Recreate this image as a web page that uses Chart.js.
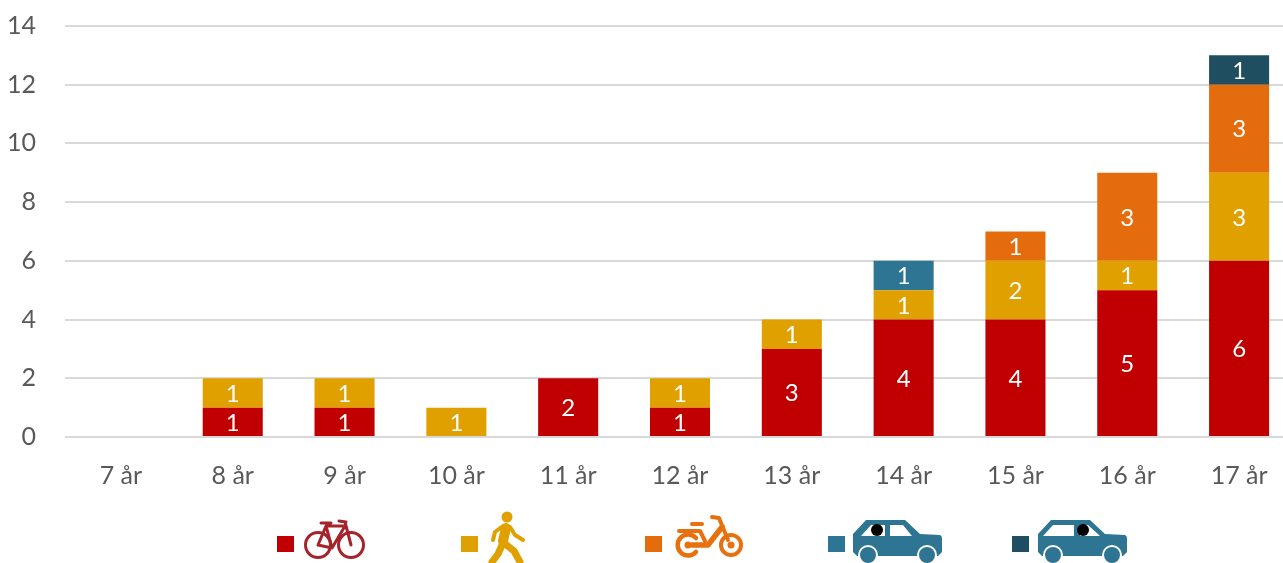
<!DOCTYPE html>
<html>
<head>
<meta charset="utf-8">
<script src="https://cdn.jsdelivr.net/npm/chart.js@4/dist/chart.umd.min.js"></script>
<style>
    html, body { margin: 0; padding: 0; background: #fff; overflow: hidden; }
    #wrap { position: relative; width: 1283px; height: 563px; overflow: hidden; }
    #chart { position: absolute; left: 0; top: 0; }
    #legend { position: absolute; left: 0; top: 0; }
</style>
</head>
<body>
<div id="wrap">
    <canvas id="chart" width="1295" height="563"></canvas>
    <svg id="legend" width="1283" height="563" xmlns="http://www.w3.org/2000/svg"></svg>
</div>
<script>
var categories = ['7 år', '8 år', '9 år', '10 år', '11 år', '12 år', '13 år', '14 år', '15 år', '16 år', '17 år'];
var seriesNames = ['Cykel', 'Gående', 'Moped', 'Bil, förare', 'Bil, passagerare'];
var cykel = [0, 1, 1, 0, 2, 1, 3, 4, 4, 5, 6];
var gaende = [0, 1, 1, 1, 0, 1, 1, 1, 2, 1, 3];
var moped = [0, 0, 0, 0, 0, 0, 0, 0, 1, 3, 3];
var bilForare = [0, 0, 0, 0, 0, 0, 0, 1, 0, 0, 0];
var bilPassagerare = [0, 0, 0, 0, 0, 0, 0, 0, 0, 0, 1];
var colors = ['#c00000', '#e0a100', '#e56c0c', '#2e7593', '#1f4e60'];
var yTicks = [0, 2, 4, 6, 8, 10, 12, 14];

var FONT = 'Lato, "Open Sans", sans-serif';

var barLabels = {
    id: 'barLabels',
    afterDatasetsDraw: function (chart) {
        var ctx = chart.ctx;
        ctx.save();
        ctx.font = '24px ' + FONT;
        ctx.fillStyle = '#ffffff';
        ctx.textAlign = 'center';
        ctx.textBaseline = 'middle';
        chart.data.datasets.forEach(function (ds, i) {
            chart.getDatasetMeta(i).data.forEach(function (bar, j) {
                if (ds.data[j] > 0) {
                    ctx.fillText(ds.data[j], bar.x, (bar.y + bar.base) / 2 + 1);
                }
            });
        });
        ctx.restore();
    }
};

var sets = [cykel, gaende, moped, bilForare, bilPassagerare];

new Chart(document.getElementById('chart'), {
    type: 'bar',
    data: {
        labels: categories,
        datasets: sets.map(function (values, i) {
            return {
                label: seriesNames[i],
                data: values,
                backgroundColor: colors[i],
                borderWidth: 0,
                categoryPercentage: 1,
                barPercentage: 0.537
            };
        })
    },
    options: {
        responsive: false,
        animation: false,
        layout: { padding: { top: 26, left: 0, right: 0, bottom: 0 } },
        plugins: { legend: { display: false }, tooltip: { enabled: false } },
        scales: {
            x: {
                stacked: true,
                grid: { display: false },
                border: { display: false },
                afterFit: function (scale) {
                    scale.height = 126;
                    scale.paddingLeft = 0;
                    scale.paddingRight = 0;
                },
                ticks: {
                    color: '#595959',
                    font: { family: FONT, size: 25 },
                    padding: 16,
                    maxRotation: 0
                }
            },
            y: {
                stacked: true,
                min: 0,
                max: 14,
                afterFit: function (scale) {
                    scale.width = 65;
                    scale.paddingTop = 0;
                    scale.paddingBottom = 0;
                },
                afterBuildTicks: function (scale) {
                    scale.ticks = yTicks.map(function (v) { return { value: v }; });
                },
                grid: { color: '#d9d9d9', lineWidth: 2, drawTicks: false },
                border: { display: false },
                ticks: {
                    color: '#595959',
                    font: { family: FONT, size: 25 },
                    padding: 29
                }
            }
        }
    },
    plugins: [barLabels]
});

// legend pictograms, no text in the original legend
var legendSquares = [277, 461, 645, 828, 1012];
var bike = '<g fill="none" stroke="#a5232a" stroke-width="3" stroke-linejoin="round" stroke-linecap="round">' +
    '<circle cx="318" cy="545" r="12.5"/><circle cx="351" cy="545" r="12.5"/>' +
    '<path d="M318 545 L326 526 L345 526 L332 548 L318 545 M326 526 L332 548 M345 522 L351 545 M321 523 L331 523 M339 521 L346 522"/></g>';
var walker = '<g fill="none" stroke="#e0a100" stroke-linecap="round" stroke-linejoin="round">' +
    '<circle cx="507" cy="517" r="5.5" fill="#e0a100" stroke="none"/>' +
    '<path d="M506 528 L503 541" stroke-width="10"/>' +
    '<path d="M503 526 L495 532 L493 540 M510 527 L515 535 L523 540" stroke-width="4"/>' +
    '<path d="M503 543 L498 554 L492 562 M504 543 L514 551 L520 562" stroke-width="7"/></g>';
var mopedIcon = '<g fill="none" stroke="#e8710f" stroke-linecap="round" stroke-linejoin="round">' +
    '<path d="M696 538 A10.5 10.5 0 1 0 696 552" stroke-width="4.5"/>' +
    '<circle cx="688" cy="545" r="3.5" fill="#e8710f" stroke="none"/>' +
    '<circle cx="731" cy="545" r="10" stroke-width="4"/><circle cx="731" cy="545" r="3.5" fill="#e8710f" stroke="none"/>' +
    '<path d="M692 545 L708 545 L722 527" stroke-width="5.5"/>' +
    '<path d="M712 517 L719 518 L728 540" stroke-width="4"/>' +
    '<path d="M692 524 L702 524 M679 531 L700 531 L705 541" stroke-width="4"/></g>';

function car(dx, headX, mirror) {
    var win = mirror
        ? 'M858 536 L868 525 L889 525 L889 536 Z M895 525 L903 525 L915 536 L895 536 Z'
        : 'M861 536 L871 525 L885 525 L885 536 Z M890 525 L903 525 L912 536 L890 536 Z';
    return '<g transform="translate(' + dx + ' 0)">' +
        '<path d="M853 534 L866 520 L905 520 L920 534 L940 535 Q942 536 942 538 L942 552 L938 556 L857 556 L853 552 Z" fill="#2e7593"/>' +
        '<path d="' + win + '" fill="#fff"/>' +
        '<circle cx="' + headX + '" cy="530" r="6" fill="#000"/>' +
        '<circle cx="868" cy="555" r="10" fill="#fff"/><circle cx="868" cy="555" r="8" fill="#2e7593"/>' +
        '<circle cx="927" cy="555" r="10" fill="#fff"/><circle cx="927" cy="555" r="8" fill="#2e7593"/></g>';
}

var legendHtml = '';
legendSquares.forEach(function (x, i) {
    legendHtml += '<rect x="' + x + '" y="536" width="17" height="16" fill="' + colors[i] + '"/>';
});
legendHtml += bike + walker + mopedIcon + car(0, 877, false) + car(185, 898, true);
document.getElementById('legend').innerHTML = legendHtml;
</script>
</body>
</html>
